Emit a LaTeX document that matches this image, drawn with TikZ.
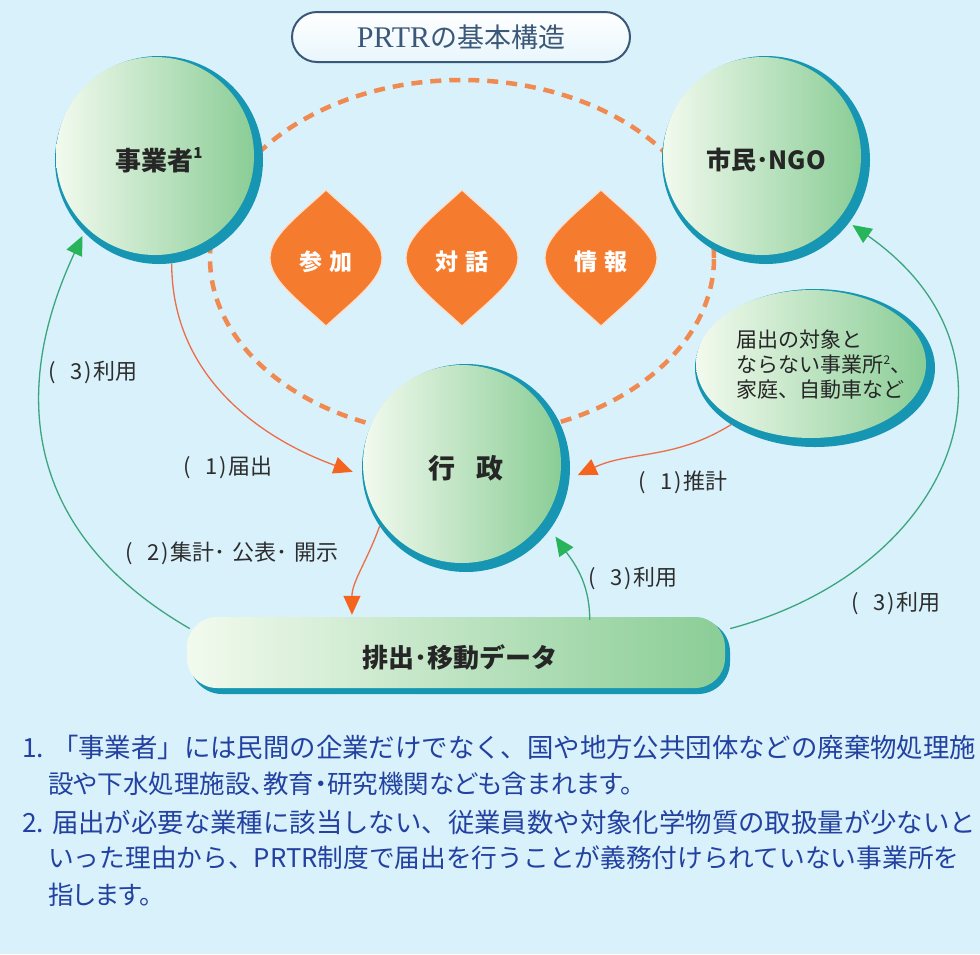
\documentclass[tikz,border=0pt]{standalone}
\usepackage{fontspec}
\newfontfamily\cjk{Noto Sans CJK JP}
\newfontfamily\cjkp[RawFeature=+palt]{Noto Sans CJK JP}
\newfontfamily\serifl{Liberation Serif}
\usetikzlibrary{arrows.meta,shapes.geometric}
\definecolor{bg}{RGB}{216,241,251}
\definecolor{teal1}{RGB}{22,150,178}
\definecolor{pale}{RGB}{242,250,238}
\definecolor{grn}{RGB}{138,205,150}
\definecolor{leafc}{RGB}{245,124,46}
\definecolor{dashc}{RGB}{240,138,80}
\definecolor{orl}{RGB}{236,110,70}
\definecolor{ortip}{RGB}{244,100,30}
\definecolor{gl}{RGB}{60,165,125}
\definecolor{gtip}{RGB}{40,180,90}
\definecolor{fn}{RGB}{35,65,160}
\definecolor{lbl}{RGB}{45,45,45}
\definecolor{ttl}{RGB}{60,88,120}
\definecolor{ttlbg}{RGB}{232,246,252}
\tikzset{
  anchorcirc/.style={circle, minimum size=208pt, inner sep=0pt, text=black!85},
  oarrow/.style={draw=orl, line width=1.3pt, -{Triangle[length=19pt,width=17pt,color=ortip]}},
  garrow/.style={draw=gl, line width=1.3pt, -{Triangle[length=19pt,width=17pt,color=gtip]}},
  lbltxt/.style={font=\cjk\fontsize{22}{22}\selectfont, text=lbl, inner sep=0pt},
  leaftxt/.style={font=\cjk\bfseries\fontsize{23}{23}\selectfont, text=white, inner sep=0pt},
  fntxt/.style={font=\cjk\fontsize{26.4}{26.4}\selectfont, text=fn, inner sep=0pt, anchor=west},
  fntxtp/.style={font=\cjkp\fontsize{25.5}{25.5}\selectfont, text=fn, inner sep=0pt, anchor=west},
}
\newcommand\leafpath{(0,68) .. controls (28,42) and (56,22) .. (56,0) .. controls (56,-22) and (28,-42) .. (0,-68) .. controls (-28,-42) and (-56,-22) .. (-56,0) .. controls (-56,22) and (-28,42) .. (0,68) -- cycle}
\newcommand\paren[1]{(\hspace{14pt}#1\hspace{2pt})\hspace{1pt}}
\begin{document}
\begin{tikzpicture}[x=1pt,y=1pt]
\fill[bg] (0,0) rectangle (980,-954);
\useasboundingbox (0,0) rectangle (980,-954);

% dashed ellipse (behind)
\draw[dashc, line width=4.5pt, dash pattern=on 11pt off 8pt] (462,-258) ellipse [x radius=252pt, y radius=178pt];

% title
\node[draw=ttl, line width=2pt, rounded corners=25pt, minimum width=338pt, minimum height=50pt,
      top color=white, bottom color=ttlbg, text=ttl] (title) at (461,-37)
  {{\serifl\fontsize{30}{30}\selectfont PRTR}{\cjk\fontsize{27}{27}\selectfont の基本構造}};

% bubbles
\fill[teal1] (159,-160) circle (104pt);
\shade[left color=pale, right color=grn] (155,-156) circle (99pt);
\fill[teal1] (766,-160) circle (104pt);
\shade[left color=pale, right color=grn] (762,-156) circle (99pt);
\fill[teal1] (466,-468) circle (104pt);
\shade[left color=pale, right color=grn] (462,-464) circle (99pt);
\fill[teal1] (815,-368) ellipse [x radius=120pt, y radius=79pt];
\shade[left color=pale, right color=grn] (811,-364) ellipse [x radius=115pt, y radius=74pt];
\fill[teal1, rounded corners=32pt] (190,-620) rectangle (730,-694);
\shade[left color=pale, right color=grn, rounded corners=30pt] (187,-617) rectangle (725,-688);

% nodes
\node[anchorcirc, font=\cjk\bfseries\fontsize{26}{26}\selectfont] (biz) at (159,-160)
  {事業者\raisebox{0.45em}{\fontsize{15}{15}\selectfont 1}};
\node[anchorcirc, font=\cjk\bfseries\fontsize{25}{25}\selectfont] (ngo) at (766,-160) {市民･NGO};
\node[anchorcirc, font=\cjk\bfseries\fontsize{27}{27}\selectfont] (gov) at (466,-468) {行\hspace{22pt}政};
\node[ellipse, minimum width=240pt, minimum height=158pt, inner sep=0pt] (est) at (815,-368) {};
\node[align=left, inner sep=0pt, text=black!85, font=\cjk\fontsize{21}{25}\selectfont] (esttxt) at (824,-365)
  {届出の対象と\\ならない事業所\raisebox{0.4em}{\fontsize{12}{12}\selectfont 2}、\\家庭、自動車など};
\node[rectangle, minimum width=540pt, minimum height=74pt, inner sep=0pt, text=black!85,
      font=\cjk\bfseries\fontsize{26}{26}\selectfont] (bar) at (460,-657) {排出･移動データ};

% leaves
\begin{scope}[shift={(326,-258)}]
  \fill[leafc, draw=white!75!leafc, line width=1.2pt] \leafpath;
  \node[leaftxt] (leafA) at (0,-4) {参\hspace{7pt}加};
\end{scope}
\begin{scope}[shift={(462,-258)}]
  \fill[leafc, draw=white!75!leafc, line width=1.2pt] \leafpath;
  \node[leaftxt] (leafB) at (0,-4) {対\hspace{7pt}話};
\end{scope}
\begin{scope}[shift={(601,-258)}]
  \fill[leafc, draw=white!75!leafc, line width=1.2pt] \leafpath;
  \node[leaftxt] (leafC) at (0,-4) {情\hspace{7pt}報};
\end{scope}

% connectors
\draw[oarrow, shorten >=10pt] (biz.-83) to[out=-90, in=160] (gov.184);
\draw[oarrow, shorten >=9pt] (est.214) to[out=212, in=25] (gov.-6);
\draw[oarrow, shorten >=5pt] (gov.214) to[out=250, in=90] (bar.161);
\draw[garrow, shorten >=9pt] (bar.16) to[out=90, in=-55] (gov.-36);
\draw[garrow, shorten >=4pt] (bar.174) to[out=150, in=245, looseness=1.15] (biz.224);
\draw[garrow, shorten >=4pt] (bar.6) to[out=15, in=-35, looseness=1.4] (ngo.-37);

% labels
\node[lbltxt] (l31) at (93,-372) {\paren{3}利用};
\node[lbltxt] (l11) at (228,-467) {\paren{1}届出};
\node[lbltxt] (l2) at (232,-553) {\paren{2}集計･\hspace{7pt}公表･\hspace{7pt}開示};
\node[lbltxt] (l12) at (683,-482) {\paren{1}推計};
\node[lbltxt] (l32) at (633,-578) {\paren{3}利用};
\node[lbltxt] (l33) at (896,-603) {\paren{3}利用};

% footnotes
\node[fntxt] (f1) at (22,-747) {1.\hspace{8pt}「事業者」には民間の企業だけでなく、国や地方公共団体などの廃棄物処理施};
\node[fntxtp] (f2) at (48,-784) {設や下水処理施設、教育・研究機関なども含まれます。};
\node[fntxt] (f3) at (22,-822) {2.\hspace{8pt}届出が必要な業種に該当しない、従業員数や対象化学物質の取扱量が少ないと};
\node[fntxt, font=\cjk\fontsize{25.7}{25.7}\selectfont] (f4) at (48,-858) {いった理由から、PRTR制度で届出を行うことが義務付けられていない事業所を};
\node[fntxtp] (f5) at (48,-895) {指します。};
\end{tikzpicture}
\end{document}
